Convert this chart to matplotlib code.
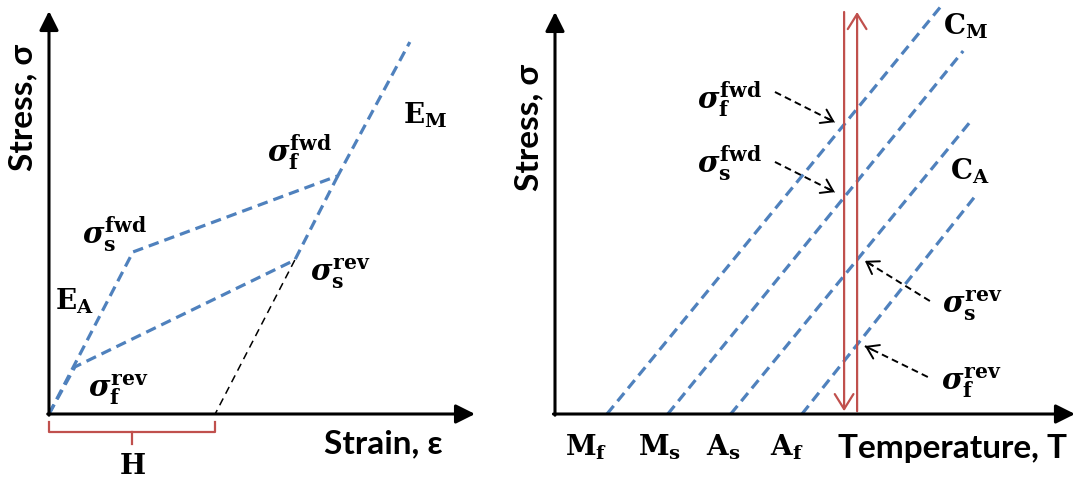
import matplotlib
matplotlib.use("Agg")
import matplotlib.pyplot as plt

# ---------------- schematic values ----------------
# Left: pseudoelastic stress-strain loop (arbitrary units, axes span 0..10)
load_strain = [0.0, 1.97, 6.78, 8.47]     # origin -> sigma_s^fwd -> sigma_f^fwd -> E_M branch
load_stress = [0.0, 4.02, 5.91, 9.23]
unload_strain = [6.78, 5.77, 0.61, 0.0]   # sigma_f^fwd -> sigma_s^rev -> sigma_f^rev -> origin
unload_stress = [5.91, 3.82, 1.17, 0.0]
residual_strain = 3.90                     # H (transformation strain)

# Right: phase diagram, transformation lines (temperature axis spans 0..10)
line_names = ["M_f", "M_s", "A_s", "A_f"]
line_T0 = [1.00, 2.17, 3.38, 4.75]         # zero-stress transformation temperatures
line_T1 = [7.46, 7.85, 7.98, 8.10]         # upper end of each line
line_S1 = [10.20, 9.03, 7.26, 5.45]
tick_T = [0.60, 2.02, 3.23, 4.46]          # label positions under the axis
T_cool_path = 5.56                         # isothermal loading path
T_heat_path = 5.81                         # isothermal unloading path

BLUE = "#4F81BD"
RED = "#C0504D"

plt.rcParams["mathtext.fontset"] = "custom"
plt.rcParams["mathtext.rm"] = "DejaVu Serif:bold"
plt.rcParams["mathtext.it"] = "DejaVu Serif:italic:bold"
plt.rcParams["mathtext.bf"] = "DejaVu Serif:bold"

W, H = 1086, 485
fig = plt.figure(figsize=(W / 100, H / 100), dpi=100)

blue_ls = dict(color=BLUE, lw=2.3, linestyle=(0, (3.3, 1.9)), solid_capstyle="butt",
               dash_capstyle="butt")
black_thin = dict(color="black", lw=1.1, linestyle=(0, (5, 3.5)), dash_capstyle="butt")
black_ptr = dict(color="black", lw=1.4, linestyle=(0, (3.5, 2.2)), dash_capstyle="butt")
label_font = dict(family="Lato", fontweight="bold", fontsize=24)
SIG = 21


def axis_arrows(ax, xmax, ymax):
    kw = dict(arrowstyle="-|>", lw=2.2, color="black", mutation_scale=29,
              shrinkA=0, shrinkB=0)
    ax.annotate("", xy=(xmax, 0), xytext=(-0.03, 0), arrowprops=kw, zorder=5)
    ax.annotate("", xy=(0, ymax), xytext=(0, -0.03), arrowprops=kw, zorder=5)


def dashed_pointer(ax, start, end):
    ax.plot([start[0], end[0]], [start[1], end[1]], **black_ptr)
    dx, dy = end[0] - start[0], end[1] - start[1]
    ax.annotate("", xy=end, xytext=(end[0] - 0.12 * dx, end[1] - 0.12 * dy),
                arrowprops=dict(arrowstyle="->, head_length=0.45, head_width=0.3",
                                lw=1.4, color="black", mutation_scale=18,
                                shrinkA=0, shrinkB=0))


# ---------------- left panel: stress-strain ----------------
ax1 = fig.add_axes([0, 0, 520 / W, 1])
ax1.set_xlim(-1.150, 11.056)
ax1.set_ylim(-1.737, 10.298)
ax1.axis("off")

ax1.plot(load_strain, load_stress, **blue_ls)
ax1.plot(unload_strain, unload_stress, **blue_ls)
ax1.plot([unload_strain[1], residual_strain], [unload_stress[1], 0.0], **black_thin)
axis_arrows(ax1, 10.0, 10.0)

# bracket marking H
bk_y, bk_top, bk_bot = -0.45, -0.20, -0.74
ax1.plot([0, 0, residual_strain, residual_strain], [bk_top, bk_y, bk_y, bk_top],
         color=RED, lw=1.6)
ax1.plot([residual_strain / 2, residual_strain / 2], [bk_y, bk_bot], color=RED, lw=1.6)
ax1.text(residual_strain / 2, -1.27, r"$\mathrm{H}$", fontsize=20, ha="center", va="center")

ax1.text(-0.61, 7.64, "Stress, σ", rotation=90, ha="center", va="center", **label_font)
ax1.text(6.45, -0.94, "Strain, ε", ha="left", va="baseline", **label_font)
ax1.text(8.31, 7.44, r"$\mathrm{E_M}$", fontsize=20, ha="left", va="center")
ax1.text(0.14, 2.83, r"$\mathrm{E_A}$", fontsize=20, ha="left", va="center")
ax1.text(5.12, 6.53, r"$\sigma_{\mathrm{f}}^{\mathrm{fwd}}$", fontsize=SIG, ha="left", va="center")
ax1.text(0.77, 4.49, r"$\sigma_{\mathrm{s}}^{\mathrm{fwd}}$", fontsize=SIG, ha="left", va="center")
ax1.text(6.13, 3.50, r"$\sigma_{\mathrm{s}}^{\mathrm{rev}}$", fontsize=SIG, ha="left", va="center")
ax1.text(0.92, 0.62, r"$\sigma_{\mathrm{f}}^{\mathrm{rev}}$", fontsize=SIG, ha="left", va="center")

# ---------------- right panel: stress-temperature ----------------
ax2 = fig.add_axes([520 / W, 0, 566 / W, 1])
ax2.set_xlim(-0.673, 10.212)
ax2.set_ylim(-1.741, 10.323)
ax2.axis("off")

for t0, t1, s1 in zip(line_T0, line_T1, line_S1):
    ax2.plot([t0, t1], [0.0, s1], **blue_ls)

red_kw = dict(arrowstyle="->, head_length=0.45, head_width=0.28", lw=1.6, color=RED,
              mutation_scale=24, shrinkA=0, shrinkB=0)
ax2.annotate("", xy=(T_cool_path, 0.07), xytext=(T_cool_path, 10.0), arrowprops=red_kw)
ax2.annotate("", xy=(T_heat_path, 10.0), xytext=(T_heat_path, 0.07), arrowprops=red_kw)
axis_arrows(ax2, 10.0, 10.0)

dashed_pointer(ax2, (4.23, 8.01), (5.38, 7.26))
dashed_pointer(ax2, (4.23, 6.27), (5.38, 5.52))
dashed_pointer(ax2, (7.21, 2.81), (5.96, 3.81))
dashed_pointer(ax2, (7.17, 0.92), (5.96, 1.69))

ax2.text(2.73, 7.87, r"$\sigma_{\mathrm{f}}^{\mathrm{fwd}}$", fontsize=SIG, ha="left", va="center")
ax2.text(2.73, 6.26, r"$\sigma_{\mathrm{s}}^{\mathrm{fwd}}$", fontsize=SIG, ha="left", va="center")
ax2.text(7.44, 2.71, r"$\sigma_{\mathrm{s}}^{\mathrm{rev}}$", fontsize=SIG, ha="left", va="center")
ax2.text(7.42, 0.80, r"$\sigma_{\mathrm{f}}^{\mathrm{rev}}$", fontsize=SIG, ha="left", va="center")
ax2.text(7.46, 9.68, r"$\mathrm{C_M}$", fontsize=20, ha="left", va="center")
ax2.text(7.60, 6.07, r"$\mathrm{C_A}$", fontsize=20, ha="left", va="center")

for name, t in zip(line_names, tick_T):
    base, sub = name.split("_")
    ax2.text(t, -0.80, r"$\mathrm{%s_{%s}}$" % (base, sub), fontsize=20,
             ha="center", va="center")

ax2.text(5.45, -1.07, "Temperature, T", ha="left", va="baseline", **label_font)
ax2.text(-0.50, 7.14, "Stress, σ", rotation=90, ha="center", va="center", **label_font)

fig.savefig("out.png", dpi=100)
